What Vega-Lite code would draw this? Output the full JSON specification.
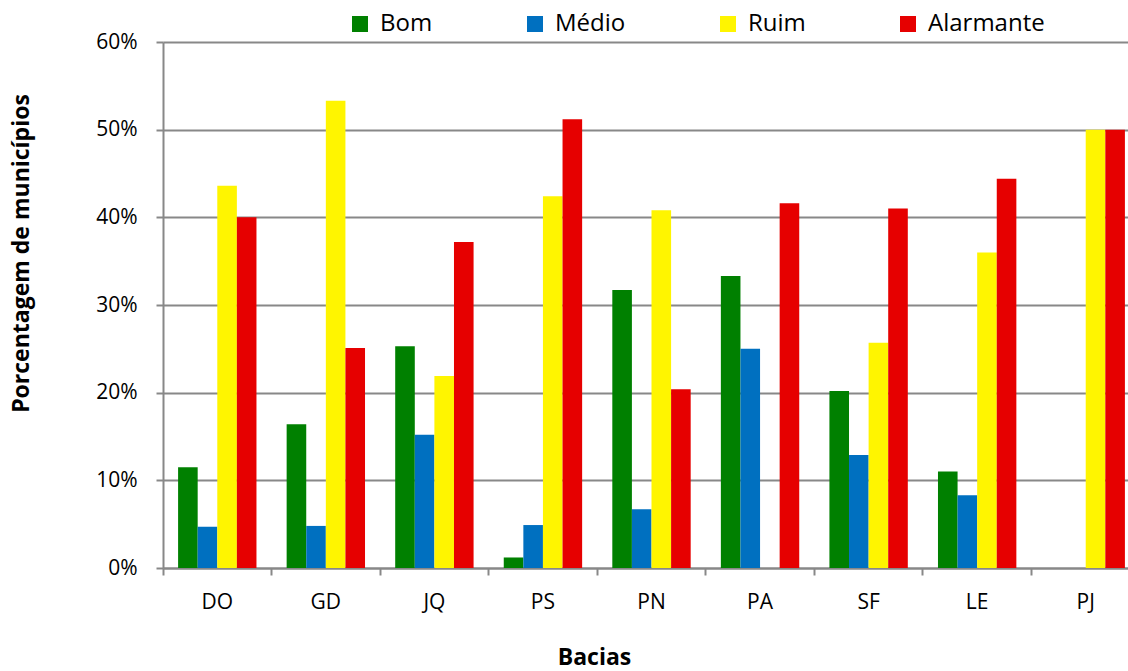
{
  "$schema": "https://vega.github.io/schema/vega-lite/v6.json",
  "width": 965,
  "height": 526,
  "autosize": {"type": "none"},
  "padding": {"left": 163, "top": 42, "right": 0, "bottom": 103},
  "background": "white",
  "config": {
    "font": "Open Sans",
    "view": {"stroke": null},
    "axis": {"labelFont": "Open Sans", "titleFont": "Open Sans", "labelColor": "#000", "titleColor": "#000"}
  },
  "data": {
    "values": [
      {"bacia": "DO", "classe": "Bom", "pct": 0.115},
      {"bacia": "DO", "classe": "Médio", "pct": 0.047},
      {"bacia": "DO", "classe": "Ruim", "pct": 0.436},
      {"bacia": "DO", "classe": "Alarmante", "pct": 0.400},
      {"bacia": "GD", "classe": "Bom", "pct": 0.164},
      {"bacia": "GD", "classe": "Médio", "pct": 0.048},
      {"bacia": "GD", "classe": "Ruim", "pct": 0.533},
      {"bacia": "GD", "classe": "Alarmante", "pct": 0.251},
      {"bacia": "JQ", "classe": "Bom", "pct": 0.253},
      {"bacia": "JQ", "classe": "Médio", "pct": 0.152},
      {"bacia": "JQ", "classe": "Ruim", "pct": 0.219},
      {"bacia": "JQ", "classe": "Alarmante", "pct": 0.372},
      {"bacia": "PS", "classe": "Bom", "pct": 0.012},
      {"bacia": "PS", "classe": "Médio", "pct": 0.049},
      {"bacia": "PS", "classe": "Ruim", "pct": 0.424},
      {"bacia": "PS", "classe": "Alarmante", "pct": 0.512},
      {"bacia": "PN", "classe": "Bom", "pct": 0.317},
      {"bacia": "PN", "classe": "Médio", "pct": 0.067},
      {"bacia": "PN", "classe": "Ruim", "pct": 0.408},
      {"bacia": "PN", "classe": "Alarmante", "pct": 0.204},
      {"bacia": "PA", "classe": "Bom", "pct": 0.333},
      {"bacia": "PA", "classe": "Médio", "pct": 0.250},
      {"bacia": "PA", "classe": "Ruim", "pct": 0.0},
      {"bacia": "PA", "classe": "Alarmante", "pct": 0.416},
      {"bacia": "SF", "classe": "Bom", "pct": 0.202},
      {"bacia": "SF", "classe": "Médio", "pct": 0.129},
      {"bacia": "SF", "classe": "Ruim", "pct": 0.257},
      {"bacia": "SF", "classe": "Alarmante", "pct": 0.410},
      {"bacia": "LE", "classe": "Bom", "pct": 0.110},
      {"bacia": "LE", "classe": "Médio", "pct": 0.083},
      {"bacia": "LE", "classe": "Ruim", "pct": 0.360},
      {"bacia": "LE", "classe": "Alarmante", "pct": 0.444},
      {"bacia": "PJ", "classe": "Bom", "pct": 0.0},
      {"bacia": "PJ", "classe": "Médio", "pct": 0.0},
      {"bacia": "PJ", "classe": "Ruim", "pct": 0.500},
      {"bacia": "PJ", "classe": "Alarmante", "pct": 0.500}
    ]
  },
  "mark": {"type": "bar"},
  "encoding": {
    "x": {
      "field": "bacia",
      "type": "nominal",
      "sort": ["DO", "GD", "JQ", "PS", "PN", "PA", "SF", "LE", "PJ"],
      "scale": {"paddingInner": 0, "paddingOuter": 0, "range": [0, 977]},
      "axis": {
        "title": "Bacias",
        "titleFontSize": 23,
        "titleFontWeight": "bold",
        "titleX": 431,
        "titleY": 96,
        "titleAlign": "center",
        "titleBaseline": "alphabetic",
        "labelAngle": 0,
        "labelFontSize": 21,
        "labelPadding": 16,
        "bandPosition": 0,
        "tickSize": 7,
        "tickColor": "#888888",
        "tickWidth": 2,
        "domainColor": "#888888",
        "domainWidth": 2,
        "grid": false
      }
    },
    "xOffset": {
      "field": "classe",
      "type": "nominal",
      "sort": ["Bom", "Médio", "Ruim", "Alarmante"],
      "scale": {"paddingInner": 0, "paddingOuter": 0.77}
    },
    "y": {
      "field": "pct",
      "type": "quantitative",
      "scale": {"domain": [0, 0.6], "nice": false},
      "axis": {
        "title": "Porcentagem de municípios",
        "titleFontSize": 23,
        "titleFontWeight": "bold",
        "titleAngle": -90,
        "titleX": -135,
        "titleY": 211,
        "titleAlign": "center",
        "titleBaseline": "alphabetic",
        "values": [0, 0.1, 0.2, 0.3, 0.4, 0.5, 0.6],
        "format": ".0%",
        "labelFontSize": 21,
        "labelPadding": 19,
        "tickSize": 7,
        "tickColor": "#888888",
        "tickWidth": 2,
        "domainColor": "#888888",
        "domainWidth": 2,
        "grid": true,
        "gridColor": "#888888",
        "gridWidth": 2
      }
    },
    "color": {
      "field": "classe",
      "type": "nominal",
      "sort": ["Bom", "Médio", "Ruim", "Alarmante"],
      "scale": {"domain": ["Bom", "Médio", "Ruim", "Alarmante"], "range": ["#008000", "#0070C0", "#FFF500", "#E60000"]},
      "legend": {
        "title": null,
        "orient": "none",
        "direction": "horizontal",
        "legendX": 185,
        "legendY": -30,
        "padding": 0,
        "symbolType": "square",
        "symbolSize": 256,
        "symbolStrokeWidth": 0,
        "symbolOpacity": 1,
        "labelFontSize": 24,
        "labelFont": "Open Sans",
        "labelColor": "#000",
        "labelOffset": 8,
        "columnPadding": 90,
        "gridAlign": "none",
        "labelLimit": 300
      }
    }
  }
}
